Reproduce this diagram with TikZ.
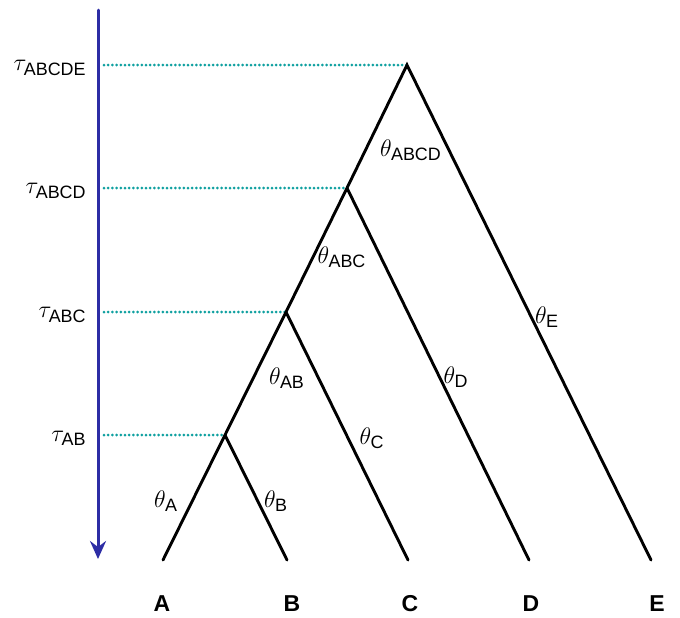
\documentclass[tikz,border=0pt]{standalone}
\usepackage{amsmath}
\usepackage{fontspec}
\setmainfont{Liberation Sans}
\usepackage{tikz}
\usetikzlibrary{arrows.meta}

\definecolor{axisblue}{RGB}{45,45,165}
\definecolor{dotteal}{RGB}{15,160,160}

\tikzset{
  branch/.style={line width=1.45pt, black},
  timeline/.style={dotteal, line width=1.5pt, line cap=round, dash pattern=on 0pt off 2.1pt},
  taulabel/.style={anchor=east, inner sep=0pt, font=\fontsize{12.8}{15}\selectfont},
  thetalabel/.style={inner sep=0pt, font=\fontsize{12.8}{15}\selectfont},
  leaflabel/.style={inner sep=0pt, font=\fontsize{11.5}{14}\selectfont\bfseries}
}

\begin{document}
\begin{tikzpicture}[x=0.5pt, y=-0.5pt, line cap=round]
  \useasboundingbox (0,0) rectangle (680,617);

  % time axis
  \coordinate (top) at (98,10);
  \coordinate (bot) at (98,559);
  \draw[axisblue, line width=1.5pt, -{Stealth[length=9pt, width=8pt, inset=3pt]}] (top) -- (bot);

  % internal nodes
  \coordinate (ABCDE) at (407,65);
  \coordinate (ABCD) at (347,188);
  \coordinate (ABC) at (286,312);
  \coordinate (AB) at (225,435);

  % leaves
  \coordinate (A) at (163,560);
  \coordinate (B) at (287,560);
  \coordinate (C) at (408,560);
  \coordinate (D) at (529,560);
  \coordinate (E) at (651,560);

  % divergence times
  \foreach \n/\y in {ABCDE/65, ABCD/188, ABC/312, AB/435} {
    \coordinate (t\n) at (104,\y);
    \draw[timeline] (t\n) -- (\n);
    \node[taulabel] (tau\n) at (87,\y+3) {$\tau_{\text{\n}}$};
  }

  % tree
  \draw[branch] (A) -- (AB) -- (ABC) -- (ABCD) -- (ABCDE) -- (E);
  \draw[branch] (AB) -- (B);
  \draw[branch] (ABC) -- (C);
  \draw[branch] (ABCD) -- (D);

  % population sizes
  \node[thetalabel] (thA) at (166,501) {$\theta_{\text{A}}$};
  \node[thetalabel] (thB) at (276,501) {$\theta_{\text{B}}$};
  \node[thetalabel] (thC) at (372,438) {$\theta_{\text{C}}$};
  \node[thetalabel] (thD) at (456,377) {$\theta_{\text{D}}$};
  \node[thetalabel] (thE) at (547,317) {$\theta_{\text{E}}$};
  \node[thetalabel] (thAB) at (287,378) {$\theta_{\text{AB}}$};
  \node[thetalabel] (thABC) at (342,257) {$\theta_{\text{ABC}}$};
  \node[thetalabel] (thABCD) at (411,150) {$\theta_{\text{ABCD}}$};

  % leaf names
  \foreach \n/\x in {A/162, B/292, C/410, D/531, E/657}
    \node[leaflabel] (lab\n) at (\x,604) {\n};
\end{tikzpicture}
\end{document}
